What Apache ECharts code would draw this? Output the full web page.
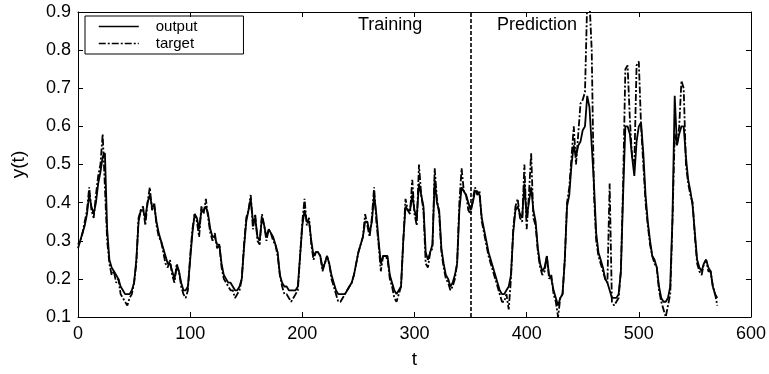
<!DOCTYPE html>
<html>
<head>
<meta charset="utf-8">
<script src="https://cdn.jsdelivr.net/npm/echarts@6/dist/echarts.min.js"></script>
<style>html,body{margin:0;padding:0;background:#fff}#c{width:769px;height:374px}</style>
</head>
<body>
<div id="c"></div>
<script>
// time step between samples
const tStep = 2;
const tStart = 0;
// target series (dash-dot), sampled every 2 time units from t=0
const targetValues = [
0.28,0.30,0.32,0.35,0.38, 0.44,0.38,0.36,0.42,0.47,
0.50,0.58,0.44,0.30,0.24, 0.21,0.22,0.19,0.20,0.16,
0.15,0.14,0.13,0.15,0.16, 0.19,0.24,0.36,0.38,0.39,
0.34,0.40,0.44,0.38,0.40, 0.34,0.31,0.30,0.27,0.24,
0.23,0.25,0.21,0.19,0.24, 0.22,0.18,0.16,0.15,0.17,
0.26,0.33,0.37,0.35,0.31, 0.39,0.37,0.41,0.36,0.32,
0.30,0.32,0.28,0.29,0.23, 0.20,0.19,0.18,0.17,0.17,
0.15,0.16,0.17,0.20,0.29, 0.36,0.38,0.42,0.33,0.37,
0.30,0.29,0.37,0.34,0.30, 0.33,0.32,0.30,0.29,0.26,
0.21,0.18,0.16,0.16,0.15, 0.14,0.15,0.16,0.17,0.26,
0.35,0.41,0.34,0.36,0.29, 0.25,0.27,0.27,0.26,0.22,
0.24,0.26,0.24,0.20,0.18, 0.16,0.14,0.14,0.15,0.16,
0.17,0.18,0.19,0.21,0.24, 0.27,0.29,0.31,0.37,0.34,
0.31,0.36,0.44,0.35,0.29, 0.22,0.26,0.26,0.25,0.20,
0.18,0.15,0.14,0.16,0.18, 0.30,0.41,0.38,0.37,0.46,
0.37,0.34,0.50,0.42,0.38, 0.24,0.23,0.27,0.28,0.49,
0.41,0.37,0.27,0.23,0.20, 0.19,0.17,0.18,0.20,0.24,
0.40,0.49,0.43,0.42,0.38, 0.37,0.41,0.44,0.42,0.43,
0.35,0.32,0.29,0.26,0.24, 0.22,0.20,0.18,0.16,0.14,
0.14,0.16,0.12,0.20,0.33, 0.39,0.41,0.36,0.35,0.50,
0.33,0.42,0.53,0.36,0.34, 0.27,0.23,0.21,0.22,0.26,
0.20,0.21,0.16,0.14,0.10, 0.15,0.16,0.25,0.40,0.44,
0.52,0.60,0.50,0.58,0.66, 0.67,0.69,0.93,0.93,0.80,
0.42,0.30,0.26,0.24,0.22, 0.20,0.19,0.45,0.14,0.13,
0.14,0.15,0.22,0.45,0.75, 0.76,0.62,0.52,0.50,0.76,
0.77,0.60,0.50,0.40,0.34, 0.29,0.26,0.24,0.23,0.17,
0.14,0.12,0.10,0.13,0.16, 0.35,0.58,0.55,0.60,0.72,
0.70,0.50,0.45,0.42,0.40, 0.31,0.24,0.22,0.21,0.24,
0.25,0.22,0.22,0.18,0.16, 0.13
];
// network output series (solid)
const outputValues = [
0.29,0.30,0.32,0.34,0.37, 0.42,0.39,0.37,0.40,0.45,
0.48,0.52,0.53,0.33,0.25, 0.23,0.22,0.21,0.20,0.18,
0.17,0.16,0.16,0.16,0.17, 0.19,0.25,0.35,0.38,0.38,
0.36,0.40,0.42,0.39,0.39, 0.35,0.32,0.30,0.28,0.26,
0.24,0.24,0.22,0.20,0.23, 0.22,0.19,0.17,0.17,0.18,
0.25,0.32,0.37,0.36,0.33, 0.38,0.38,0.39,0.37,0.33,
0.31,0.31,0.29,0.29,0.24, 0.21,0.20,0.19,0.19,0.18,
0.17,0.17,0.18,0.20,0.28, 0.35,0.38,0.41,0.35,0.36,
0.31,0.30,0.36,0.34,0.31, 0.33,0.32,0.31,0.29,0.27,
0.21,0.19,0.18,0.18,0.17, 0.17,0.17,0.17,0.18,0.26,
0.34,0.38,0.35,0.35,0.30, 0.26,0.27,0.27,0.26,0.23,
0.24,0.26,0.24,0.21,0.19, 0.17,0.16,0.16,0.16,0.16,
0.17,0.18,0.19,0.21,0.24, 0.27,0.29,0.31,0.35,0.35,
0.32,0.35,0.42,0.37,0.30, 0.24,0.26,0.26,0.26,0.21,
0.19,0.17,0.16,0.17,0.18, 0.30,0.39,0.38,0.38,0.42,
0.38,0.36,0.45,0.42,0.39, 0.27,0.25,0.27,0.29,0.46,
0.40,0.38,0.28,0.24,0.21, 0.20,0.18,0.19,0.21,0.24,
0.38,0.44,0.43,0.42,0.40, 0.38,0.40,0.43,0.43,0.42,
0.36,0.33,0.30,0.27,0.25, 0.23,0.21,0.19,0.17,0.16,
0.16,0.17,0.18,0.21,0.32, 0.38,0.39,0.37,0.36,0.45,
0.36,0.40,0.44,0.38,0.35, 0.28,0.24,0.22,0.23,0.26,
0.21,0.20,0.17,0.15,0.13, 0.15,0.16,0.25,0.39,0.42,
0.50,0.55,0.52,0.55,0.56, 0.59,0.60,0.68,0.65,0.55,
0.45,0.32,0.27,0.25,0.23, 0.20,0.19,0.17,0.15,0.15,
0.15,0.16,0.22,0.42,0.60, 0.60,0.58,0.52,0.47,0.56,
0.60,0.61,0.53,0.42,0.35, 0.30,0.26,0.25,0.23,0.18,
0.15,0.14,0.14,0.15,0.18, 0.36,0.68,0.55,0.58,0.60,
0.60,0.52,0.46,0.43,0.39, 0.32,0.25,0.23,0.22,0.24,
0.25,0.23,0.22,0.18,0.16, 0.15
];
const xTicks = [0, 100, 200, 300, 400, 500, 600];
const yTicks = [0.1, 0.2, 0.3, 0.4, 0.5, 0.6, 0.7, 0.8, 0.9];
const splitT = 350;
const seriesNames = ['output', 'target'];
const phaseLabels = ['Training', 'Prediction'];

const toPairs = vals => vals.map((v, i) => [tStart + i * tStep, v]);
const FONT = 'Liberation Sans, Arial, Helvetica, sans-serif';
const solidStyle = {color: '#000', width: 1.8, type: 'solid'};
const dashDotStyle = {color: '#000', width: 1.8, type: [7, 2, 2, 2]};

const chart = echarts.init(document.getElementById('c'), null, {renderer: 'canvas'});
const axisCommon = {
  axisLine: {show: true, onZero: false, lineStyle: {color: '#000', width: 1}},
  axisTick: {show: true, inside: true, length: 5, lineStyle: {color: '#000'}},
  splitLine: {show: false}
};
chart.setOption({
  animation: false,
  backgroundColor: '#fff',
  grid: {left: 78, right: 4, top: 12, bottom: 50, containLabel: false},
  legend: {
    left: 85, top: 16, orient: 'vertical',
    data: seriesNames,
    itemWidth: 40, itemHeight: 14, itemGap: 2,
    padding: [3, 46, 3, 13],
    borderColor: '#000', borderWidth: 1, borderRadius: 0,
    itemStyle: {opacity: 0, borderWidth: 0},
    lineStyle: {width: 1.5},
    textStyle: {fontFamily: FONT, fontSize: 15, color: '#000', padding: [0, 0, 0, 12]}
  },
  xAxis: [
    Object.assign({}, axisCommon, {
      type: 'value', min: xTicks[0], max: xTicks[xTicks.length - 1], interval: 100,
      name: 't', nameLocation: 'middle', nameGap: 33,
      nameTextStyle: {fontFamily: FONT, fontSize: 19, color: '#000'},
      axisLabel: {fontFamily: FONT, fontSize: 18, color: '#000', margin: 8}
    }),
    Object.assign({}, axisCommon, {
      type: 'value', position: 'top', min: xTicks[0], max: xTicks[xTicks.length - 1], interval: 100,
      axisLabel: {show: false}
    })
  ],
  yAxis: [
    Object.assign({}, axisCommon, {
      type: 'value', min: yTicks[0], max: yTicks[yTicks.length - 1], interval: 0.1,
      name: 'y(t)', nameLocation: 'middle', nameGap: 50, nameRotate: 90,
      nameTextStyle: {fontFamily: FONT, fontSize: 19, color: '#000'},
      axisLabel: {fontFamily: FONT, fontSize: 18, color: '#000', margin: 7,
        formatter: v => v.toFixed(1)}
    }),
    Object.assign({}, axisCommon, {
      type: 'value', position: 'right', min: yTicks[0], max: yTicks[yTicks.length - 1], interval: 0.1,
      axisLabel: {show: false}
    })
  ],
  series: [
    {
      name: seriesNames[0], type: 'line', data: toPairs(outputValues),
      showSymbol: false, symbol: 'none', clip: true,
      lineStyle: solidStyle,
      itemStyle: {color: '#000'},
      markLine: {
        silent: true, symbol: 'none', label: {show: false},
        lineStyle: {color: '#000', width: 1.6, type: [4, 2]},
        data: [{xAxis: splitT}]
      }
    },
    {
      name: seriesNames[1], type: 'line', data: toPairs(targetValues),
      showSymbol: false, symbol: 'none', clip: true,
      lineStyle: dashDotStyle,
      itemStyle: {color: '#000'}
    }
  ],
  graphic: [
    {type: 'text', left: 358, top: 16, style: {text: phaseLabels[0], font: '18px ' + FONT, fill: '#000'}},
    {type: 'text', left: 497, top: 16, style: {text: phaseLabels[1], font: '18px ' + FONT, fill: '#000'}}
  ]
});
</script>
</body>
</html>
